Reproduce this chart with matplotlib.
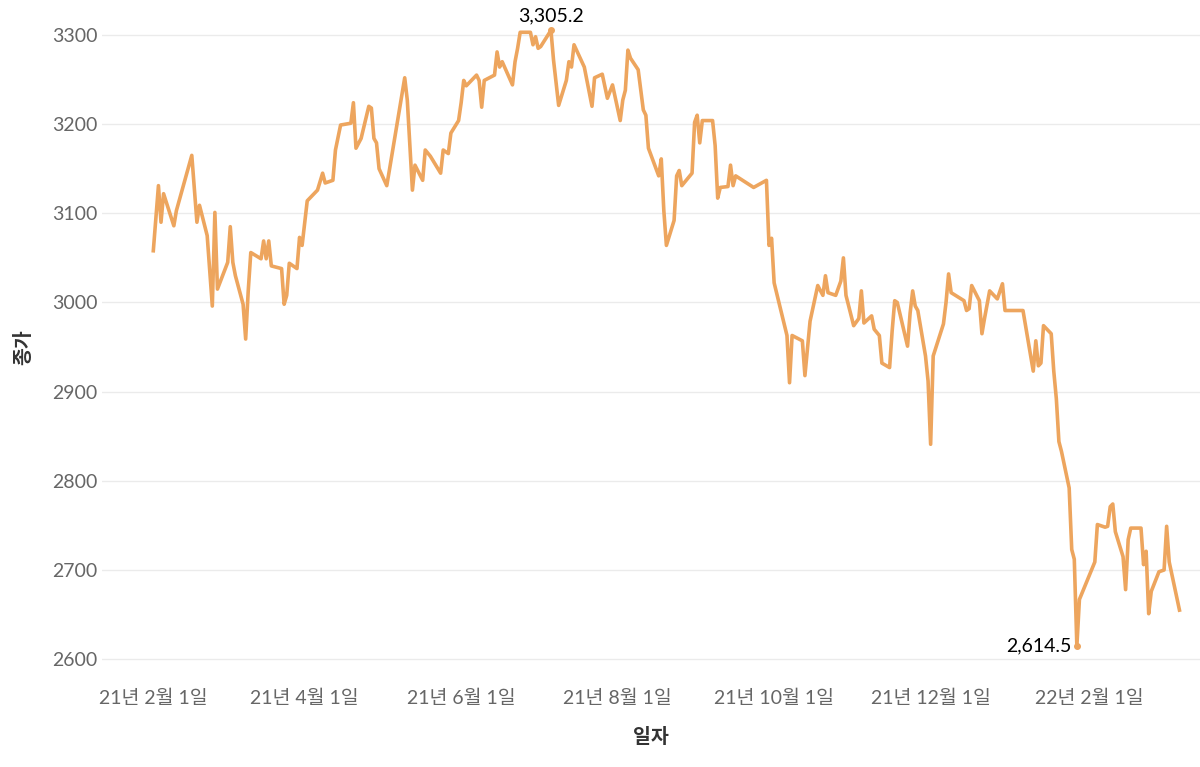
import matplotlib
matplotlib.use("Agg")
import matplotlib.pyplot as plt
import pandas as pd

plt.rcParams['font.family'] = ['Lato', 'Noto Sans CJK KR', 'DejaVu Sans']

dates = [
"2021-02-01","2021-02-03","2021-02-04","2021-02-05","2021-02-09","2021-02-10","2021-02-16","2021-02-18","2021-02-19","2021-02-22",
"2021-02-24","2021-02-25","2021-02-26","2021-03-02","2021-03-03","2021-03-04","2021-03-05","2021-03-08","2021-03-09","2021-03-10",
"2021-03-11","2021-03-15","2021-03-16","2021-03-17","2021-03-18","2021-03-19","2021-03-23","2021-03-24","2021-03-25","2021-03-26",
"2021-03-29","2021-03-30","2021-03-31","2021-04-02","2021-04-06","2021-04-08","2021-04-09","2021-04-12","2021-04-13","2021-04-15",
"2021-04-19","2021-04-20","2021-04-21","2021-04-23","2021-04-26","2021-04-27","2021-04-28","2021-04-29","2021-04-30","2021-05-03",
"2021-05-04","2021-05-10","2021-05-11","2021-05-13","2021-05-14","2021-05-17","2021-05-18","2021-05-20","2021-05-24","2021-05-25",
"2021-05-27","2021-05-28","2021-05-31","2021-06-01","2021-06-02","2021-06-03","2021-06-07","2021-06-08","2021-06-09","2021-06-10",
"2021-06-14","2021-06-15","2021-06-16","2021-06-17","2021-06-21","2021-06-22","2021-06-23","2021-06-24","2021-06-28","2021-06-29",
"2021-06-30","2021-07-01","2021-07-02","2021-07-06","2021-07-07","2021-07-09","2021-07-12","2021-07-13","2021-07-14","2021-07-15",
"2021-07-19","2021-07-22","2021-07-23","2021-07-26","2021-07-28","2021-07-30","2021-08-02","2021-08-03","2021-08-04","2021-08-05",
"2021-08-06","2021-08-09","2021-08-11","2021-08-12","2021-08-13","2021-08-17","2021-08-18","2021-08-19","2021-08-20","2021-08-23",
"2021-08-24","2021-08-25","2021-08-26","2021-08-30","2021-08-31","2021-09-01","2021-09-02","2021-09-03","2021-09-07","2021-09-08",
"2021-09-09","2021-09-10","2021-09-13","2021-09-14","2021-09-15","2021-09-16","2021-09-23","2021-09-28","2021-09-29","2021-09-30",
"2021-10-01","2021-10-06","2021-10-07","2021-10-08","2021-10-12","2021-10-13","2021-10-15","2021-10-18","2021-10-20","2021-10-21",
"2021-10-22","2021-10-25","2021-10-27","2021-10-28","2021-10-29","2021-11-01","2021-11-03","2021-11-04","2021-11-05","2021-11-08",
"2021-11-09","2021-11-11","2021-11-12","2021-11-15","2021-11-16","2021-11-17","2021-11-18","2021-11-22","2021-11-23","2021-11-24",
"2021-11-25","2021-11-26","2021-11-29","2021-11-30","2021-12-01","2021-12-02","2021-12-06","2021-12-07","2021-12-08","2021-12-09",
"2021-12-14","2021-12-15","2021-12-16","2021-12-17","2021-12-20","2021-12-21","2021-12-22","2021-12-24","2021-12-27","2021-12-29",
"2021-12-30","2022-01-06","2022-01-07","2022-01-10","2022-01-11","2022-01-12","2022-01-13","2022-01-14","2022-01-17","2022-01-18",
"2022-01-19","2022-01-20","2022-01-21","2022-01-24","2022-01-25","2022-01-26","2022-01-27","2022-01-28","2022-02-03","2022-02-04",
"2022-02-07","2022-02-08","2022-02-09","2022-02-10","2022-02-11","2022-02-14","2022-02-15","2022-02-16","2022-02-17","2022-02-21",
"2022-02-22","2022-02-23","2022-02-24","2022-02-25","2022-02-28","2022-03-02","2022-03-03","2022-03-04","2022-03-08",
]
closes = [
3058,3131,3090,3122,3086,3103,3165,3090,3109,3075,
2996,3101,3015,3045,3085,3045,3030,2998,2959,3013,
3056,3049,3069,3049,3069,3041,3038,2998,3008,3044,
3038,3073,3064,3114,3126,3145,3134,3137,3171,3199,
3201,3224,3173,3184,3220,3218,3184,3179,3150,3131,
3148,3252,3227,3126,3154,3137,3171,3164,3145,3171,
3167,3190,3204,3224,3249,3243,3255,3249,3219,3249,
3255,3281,3264,3270,3244,3270,3285,3303,3303,3289,
3298,3285,3287,3305.2,3272,3221,3249,3270,3264,3289,
3264,3220,3252,3256,3229,3244,3204,3227,3238,3283,
3274,3261,3216,3210,3173,3142,3161,3103,3064,3092,
3142,3148,3131,3145,3202,3210,3179,3204,3204,3176,
3117,3129,3130,3154,3131,3142,3129,3137,3064,3072,
3022,2963,2910,2963,2957,2918,2979,3019,3008,3030,
3011,3008,3024,3050,3008,2974,2982,3013,2977,2985,
2970,2963,2932,2927,2968,3002,3000,2951,2988,3013,
2996,2991,2940,2912,2841,2940,2976,3000,3032,3011,
3002,2991,2993,3019,3002,2965,2982,3013,3004,3021,
2991,2991,2974,2923,2957,2929,2932,2974,2965,2923,
2892,2844,2833,2792,2723,2712,2614.5,2667,2709,2751,
2748,2749,2771,2774,2743,2715,2678,2734,2747,2747,
2706,2721,2651,2676,2698,2700,2749,2709,2655,
]
tick_dates = ["2021-02-01","2021-04-01","2021-06-01","2021-08-01","2021-10-01","2021-12-01","2022-02-01"]
tick_labels = ["21년 2월 1일","21년 4월 1일","21년 6월 1일","21년 8월 1일","21년 10월 1일","21년 12월 1일","22년 2월 1일"]

s = pd.Series(closes, index=pd.to_datetime(dates))
color = "#EDA55E"

fig = plt.figure(figsize=(12, 7.67), dpi=100)
ax = fig.add_axes([0.085, 0.115, 0.915, 0.865])
ax.plot(s.index, s.values, color=color, lw=2.6, solid_joinstyle='round')

imax = s.idxmax(); imin = s.idxmin()
ax.plot([imax], [s[imax]], 'o', color=color, ms=4)
ax.plot([imin], [s[imin]], 'o', color=color, ms=4)
ax.annotate(f"{s[imax]:,.1f}", (imax, s[imax]), xytext=(0, 4), textcoords='offset points',
            ha='center', va='bottom', fontsize=14, color='black')
ax.annotate(f"{s[imin]:,.1f}", (imin, s[imin]), xytext=(-4, 0), textcoords='offset points',
            ha='right', va='center', fontsize=14, color='black')

ax.set_ylim(2578, 3322)
ax.set_xlim(pd.Timestamp("2021-01-12"), pd.Timestamp("2022-03-16"))
ax.set_yticks([2600, 2700, 2800, 2900, 3000, 3100, 3200, 3300])
ax.set_xticks(pd.to_datetime(tick_dates))
ax.set_xticklabels(tick_labels)
ax.tick_params(axis='both', length=0, labelsize=14, labelcolor='#666666')
ax.tick_params(axis='x', pad=8)
ax.grid(axis='y', color='#ebebeb', lw=1)
ax.set_axisbelow(True)
for sp in ax.spines.values():
    sp.set_visible(False)
ax.set_ylabel("종가", fontsize=14, fontweight='bold', color='#333333', labelpad=14)
ax.set_xlabel("일자", fontsize=14, fontweight='bold', color='#333333', labelpad=14)
fig.savefig("out.png", dpi=100)
